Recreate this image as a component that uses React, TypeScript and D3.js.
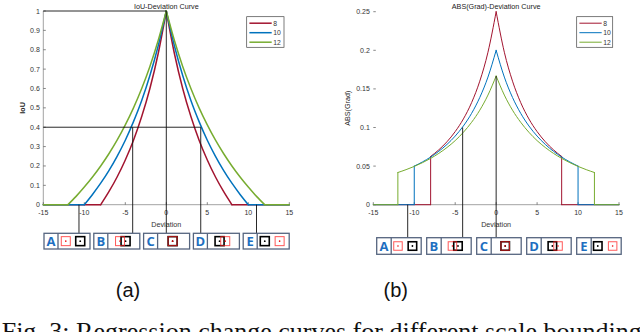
import React from "react";
import * as d3 from "d3";

// ---------- data ----------
const seriesNames = ["8", "10", "12"];
const seriesColors = ["#A2142F", "#0072BD", "#77AC30"];

const devs = [-15, -14, -13, -12, -11, -10, -9, -8, -7, -6, -5, -4, -3, -2, -1, 0, 1, 2, 3, 4, 5, 6, 7, 8, 9, 10, 11, 12, 13, 14, 15];
const iou8 = [0, 0, 0, 0, 0, 0, 0, 0, 0.067, 0.143, 0.231, 0.333, 0.455, 0.6, 0.778, 1, 0.778, 0.6, 0.455, 0.333, 0.231, 0.143, 0.067, 0, 0, 0, 0, 0, 0, 0, 0];
const iou10 = [0, 0, 0, 0, 0, 0, 0.053, 0.111, 0.176, 0.25, 0.333, 0.429, 0.538, 0.667, 0.818, 1, 0.818, 0.667, 0.538, 0.429, 0.333, 0.25, 0.176, 0.111, 0.053, 0, 0, 0, 0, 0, 0];
const iou12 = [0, 0, 0, 0, 0.043, 0.091, 0.143, 0.2, 0.263, 0.333, 0.412, 0.5, 0.6, 0.714, 0.846, 1, 0.846, 0.714, 0.6, 0.5, 0.412, 0.333, 0.263, 0.2, 0.143, 0.091, 0.043, 0, 0, 0, 0];

const gradX8 = [-15, -8, -8, -7, -6, -5, -4, -3, -2, -1, 0, 1, 2, 3, 4, 5, 6, 7, 8, 8, 15];
const grad8 = [0, 0, 0.0625, 0.0711, 0.0816, 0.0947, 0.1111, 0.1322, 0.16, 0.1975, 0.25, 0.1975, 0.16, 0.1322, 0.1111, 0.0947, 0.0816, 0.0711, 0.0625, 0, 0];
const gradX10 = [-15, -10, -10, -9, -8, -7, -6, -5, -4, -3, -2, -1, 0, 1, 2, 3, 4, 5, 6, 7, 8, 9, 10, 10, 15];
const grad10 = [0, 0, 0.05, 0.0554, 0.0617, 0.0692, 0.0781, 0.0889, 0.102, 0.1183, 0.1389, 0.1653, 0.2, 0.1653, 0.1389, 0.1183, 0.102, 0.0889, 0.0781, 0.0692, 0.0617, 0.0554, 0.05, 0, 0];
const gradX12 = [-15, -12, -12, -11, -10, -9, -8, -7, -6, -5, -4, -3, -2, -1, 0, 1, 2, 3, 4, 5, 6, 7, 8, 9, 10, 11, 12, 12, 15];
const grad12 = [0, 0, 0.0417, 0.0454, 0.0496, 0.0544, 0.06, 0.0665, 0.0741, 0.083, 0.0938, 0.1067, 0.1224, 0.142, 0.1667, 0.142, 0.1224, 0.1067, 0.0938, 0.083, 0.0741, 0.0665, 0.06, 0.0544, 0.0496, 0.0454, 0.0417, 0, 0];

const xTicks = [-15, -10, -5, 0, 5, 10, 15];
const iouTicks = [0, 0.1, 0.2, 0.3, 0.4, 0.5, 0.6, 0.7, 0.8, 0.9, 1];
const gradTicks = [0, 0.05, 0.1, 0.15, 0.2, 0.25];

// annotation lines (deviation values where guide lines drop to the box glyphs)
const iouGuideDevs = [-10.65, -4.1, 0, 4.2, 11.0];
const iouGuideFrom = [0, 0.4, 1, 0.4, 0];
const iouLevelLines = [1, 0.4];
const iouLevelEnds = [0, 4.2];
const gradGuideDevs = [-10.8, -4.09, 0];
const gradGuideFrom = [0, 0.1, 0.1667];

const boxLabels = ["A", "B", "C", "D", "E"];
const boxDevs = [-10.7, -4.1, 0, 4.2, 11.0];

// ---------- helpers ----------
function pieces(xs: number[], ys: number[]) {
  const n = xs.length;
  const br: number[] = [];
  for (let i = 0; i < n; i++) {
    if (i === 0 || i === n - 1) { br.push(i); continue; }
    const dup = xs[i] === xs[i - 1] || xs[i] === xs[i + 1];
    const peak = ys[i] >= ys[i - 1] && ys[i] >= ys[i + 1] && ys[i] > 0;
    const knee = ys[i] === 0 && (ys[i - 1] !== 0 || ys[i + 1] !== 0);
    if (dup || peak || knee) br.push(i);
  }
  const out: [number, number][][] = [];
  for (let k = 0; k < br.length - 1; k++) {
    const seg: [number, number][] = [];
    for (let i = br[k]; i <= br[k + 1]; i++) seg.push([xs[i], ys[i]]);
    out.push(seg);
  }
  return out;
}

const FONT = "'Liberation Sans', Arial, Helvetica, sans-serif";

type ChartProps = {
  x0: number; x1: number; yTop: number; yBot: number;
  yMax: number; yTicks: number[]; yFmt: (v: number) => string;
  title: string; yLabel: string; series: { xs: number[]; ys: number[] }[];
  lineW: number; showYAxis: boolean; legend: { x: number; y: number; w: number; h: number };
  children?: (x: d3.ScaleLinear<number, number>, y: d3.ScaleLinear<number, number>) => React.ReactNode;
  yLabelX: number;
};

function Chart(p: ChartProps) {
  const x = d3.scaleLinear().domain([-15, 15]).range([p.x0, p.x1]);
  const y = d3.scaleLinear().domain([0, p.yMax]).range([p.yBot, p.yTop]);
  const line = d3.line<[number, number]>().x((d) => x(d[0])).y((d) => y(d[1])).curve(d3.curveMonotoneX);
  const cx = (p.x0 + p.x1) / 2;
  return (
    <g fontFamily={FONT}>
      {/* axes */}
      {p.showYAxis && <line x1={p.x0} x2={p.x0} y1={p.yTop} y2={p.yBot} stroke="#8a8a8a" strokeWidth={0.8} />}
      <line x1={p.x0} x2={p.x1} y1={p.yBot} y2={p.yBot} stroke="#8a8a8a" strokeWidth={0.8} />
      {p.yTicks.map((t) => (
        <g key={"yt" + t}>
          <line x1={p.x0} x2={p.x0 + 2.5} y1={y(t)} y2={y(t)} stroke="#555" strokeWidth={0.7} />
          <text x={p.x0 - 3.5} y={y(t) + 2.5} fontSize={7} fill="#333" textAnchor="end">{p.yFmt(t)}</text>
        </g>
      ))}
      {xTicks.map((t) => (
        <g key={"xt" + t}>
          <line x1={x(t)} x2={x(t)} y1={p.yBot} y2={p.yBot - 2.5} stroke="#555" strokeWidth={0.7} />
          <text x={x(t)} y={p.yBot + 10.5} fontSize={7} fill="#333" textAnchor="middle">{t}</text>
        </g>
      ))}
      <text x={cx} y={p.yBot + 22} fontSize={7.2} fill="#333" textAnchor="middle">Deviation</text>
      <text transform={`translate(${p.yLabelX},${(p.yTop + p.yBot) / 2}) rotate(-90)`} fontSize={7.2} fill="#222" textAnchor="middle" fontWeight={p.showYAxis ? "bold" : "normal"}>{p.yLabel}</text>
      <text x={cx} y={8.5} fontSize={7.2} fill="#222" textAnchor="middle">{p.title}</text>
      {/* series */}
      {p.series.map((s, si) => (
        <g key={"s" + si}>
          {pieces(s.xs, s.ys).map((seg, k) => (
            <path key={k} d={line(seg) || ""} fill="none" stroke={seriesColors[si]} strokeWidth={p.lineW} strokeLinecap="round" strokeLinejoin="round" />
          ))}
        </g>
      ))}
      {p.children && p.children(x, y)}
      {/* legend */}
      <rect x={p.legend.x} y={p.legend.y} width={p.legend.w} height={p.legend.h} fill="#fff" stroke="#444" strokeWidth={0.7} />
      {seriesNames.map((nm, i) => {
        const ly = p.legend.y + 6.5 + i * 9.5;
        return (
          <g key={"lg" + nm}>
            <line x1={p.legend.x + 2.7} x2={p.legend.x + 25} y1={ly} y2={ly} stroke={seriesColors[i]} strokeWidth={p.lineW} />
            <text x={p.legend.x + 26.5} y={ly + 2.5} fontSize={6.8} fill="#333">{nm}</text>
          </g>
        );
      })}
    </g>
  );
}

function BoxRow(props: { x0: number; step: number; w: number; top: number; h: number; sq: number; div: number }) {
  const { x0, step, w, top, h, sq, div } = props;
  const k = 1.35;
  return (
    <g>
      {boxLabels.map((lab, i) => {
        const bx = x0 + i * step;
        const secC = bx + div + (w - div) / 2 - 1;
        const d = boxDevs[i];
        const blackC = secC - (d * k) / 2;
        const redC = secC + (d * k) / 2;
        const cy = top + h / 2;
        return (
          <g key={lab}>
            <rect x={bx} y={top} width={w} height={h} fill="#fff" stroke="#56657f" strokeWidth={1.3} />
            <line x1={bx + div} x2={bx + div} y1={top} y2={top + h} stroke="#56657f" strokeWidth={1.3} />
            <text x={bx + div / 2} y={cy + 4.6} fontSize={13} fontWeight="bold" fill="#1e6fc1" textAnchor="middle" fontFamily="'Open Sans', 'Liberation Sans', sans-serif">{lab}</text>
            <rect x={blackC - sq / 2} y={cy - sq / 2} width={sq} height={sq} fill="none" stroke="#000" strokeWidth={1.6} />
            <circle cx={blackC} cy={cy} r={0.9} fill="#000" />
            <rect x={redC - sq / 2} y={cy - sq / 2} width={sq} height={sq} fill="none" stroke="#ff2020" strokeOpacity={0.75} strokeWidth={1} />
            <circle cx={redC} cy={cy} r={0.8} fill="#e00" />
          </g>
        );
      })}
    </g>
  );
}

export default function App() {
  const leftTop = 233.3;
  const rightTop = 237.7;
  return (
    <svg width={640} height={332} style={{ position: "absolute", left: 0, top: 0, background: "#fff" }}>
      <rect width={640} height={332} fill="#fff" />
      <Chart
        x0={43.3} x1={289.3} yTop={11} yBot={204.7} yMax={1} yTicks={iouTicks}
        yFmt={(v) => String(+v.toFixed(1))}
        title="IoU-Deviation Curve" yLabel="IoU" yLabelX={25}
        series={[{ xs: devs, ys: iou8 }, { xs: devs, ys: iou10 }, { xs: devs, ys: iou12 }]}
        lineW={1.5} showYAxis={true} legend={{ x: 246.7, y: 16.7, w: 37.3, h: 30.6 }}
      >
        {(x, y) => (
          <g stroke="#111" strokeWidth={0.9}>
            {iouLevelLines.map((lv, i) => (
              <line key={"h" + i} x1={x(-15)} x2={x(iouLevelEnds[i])} y1={y(lv)} y2={y(lv)} />
            ))}
            {iouGuideDevs.map((dv, i) => (
              <line key={"v" + i} x1={x(dv)} x2={x(dv)} y1={y(iouGuideFrom[i])} y2={leftTop} />
            ))}
          </g>
        )}
      </Chart>
      <Chart
        x0={373.3} x1={619} yTop={11.7} yBot={204.7} yMax={0.25} yTicks={gradTicks}
        yFmt={(v) => String(+v.toFixed(2))}
        title="ABS(Grad)-Deviation Curve" yLabel="ABS(Grad)" yLabelX={350}
        series={[{ xs: gradX8, ys: grad8 }, { xs: gradX10, ys: grad10 }, { xs: gradX12, ys: grad12 }]}
        lineW={1} showYAxis={false} legend={{ x: 576.7, y: 16.7, w: 36, h: 30.6 }}
      >
        {(x, y) => (
          <g stroke="#111" strokeWidth={0.9}>
            {gradGuideDevs.map((dv, i) => (
              <line key={"g" + i} x1={x(dv)} x2={x(dv)} y1={y(gradGuideFrom[i])} y2={rightTop} />
            ))}
          </g>
        )}
      </Chart>
      <BoxRow x0={44} step={49.8} w={46} top={leftTop} h={15.7} sq={9} div={14} />
      <BoxRow x0={376.7} step={50} w={44.5} top={rightTop} h={16.6} sq={8.5} div={14.5} />
      <text x={128} y={297} fontSize={20} textAnchor="middle" fontFamily={FONT} fill="#111">(a)</text>
      <text x={395.7} y={297} fontSize={20} textAnchor="middle" fontFamily={FONT} fill="#111">(b)</text>
      <text x={1.7} y={340} fontSize={26} fontFamily="'Liberation Serif', 'Times New Roman', serif" fill="#111">Fig. 3: Regression change curves for different scale bounding boxes</text>
    </svg>
  );
}
